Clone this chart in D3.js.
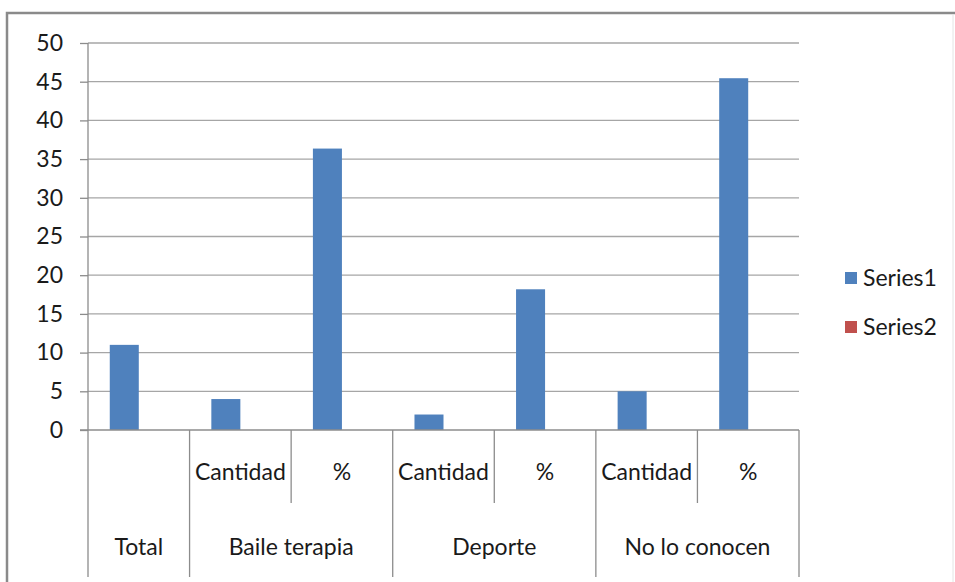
<!DOCTYPE html>
<html>
<head>
<meta charset="utf-8">
<script src="https://cdn.jsdelivr.net/npm/d3@7/dist/d3.min.js"></script>
<style>
  html, body { margin: 0; padding: 0; background: #ffffff; }
  svg { display: block; }
  text { font-family: Lato, "Open Sans", sans-serif; fill: #1a1a1a; }
</style>
</head>
<body>
<svg id="chart" width="955" height="582"></svg>
<script>
// Category hierarchy: outer group and inner sub-label for each column
const groups = ["Total", "Baile terapia", "Baile terapia", "Deporte", "Deporte", "No lo conocen", "No lo conocen"];
const subLabels = ["", "Cantidad", "%", "Cantidad", "%", "Cantidad", "%"];
const series1 = [11, 4, 36.36, 2, 18.18, 5, 45.45];
const series2 = [0, 0, 0, 0, 0, 0, 0];
const seriesNames = ["Series1", "Series2"];
const seriesColors = ["#4f81bd", "#c0504d"];
const yTicks = [0, 5, 10, 15, 20, 25, 30, 35, 40, 45, 50];

const svg = d3.select("#chart");
const W = 955, H = 582;
const fontSize = 23;

// Outer chart frame
svg.append("path")
  .attr("d", `M7,${H + 5} L7,13 L${W + 5},13`)
  .attr("fill", "none").attr("stroke", "#8a8a8a").attr("stroke-width", 2.5);
svg.append("line")
  .attr("x1", 953).attr("x2", 953).attr("y1", 14).attr("y2", H)
  .attr("stroke", "#e4e4e4").attr("stroke-width", 1);

const plot = { left: 88, right: 799, top: 43, bottom: 430 };
const subBottom = 503, groupBottom = 577;

const idx = d3.range(groups.length);
const x = d3.scaleBand().domain(idx).range([plot.left, plot.right]).padding(0);
const xs = d3.scaleBand().domain(seriesNames).range([0, x.bandwidth()])
  .paddingInner(0).paddingOuter(0.75);
const y = d3.scaleLinear().domain([0, 50]).range([plot.bottom, plot.top]);

// Horizontal gridlines
svg.append("g").selectAll("line").data(yTicks.filter(d => d > 0)).join("line")
  .attr("x1", plot.left).attr("x2", plot.right)
  .attr("y1", d => y(d)).attr("y2", d => y(d))
  .attr("stroke", "#a6a6a6").attr("stroke-width", 1.3);

// Value axis
const yAxis = d3.axisLeft(y).tickValues(yTicks).tickSize(8).tickPadding(17).tickFormat(d3.format("d"));
const gy = svg.append("g").attr("transform", `translate(${plot.left},0)`).call(yAxis);
gy.select(".domain").remove();
gy.selectAll(".tick line").attr("stroke", "#8c8c8c").attr("stroke-width", 1.3);
gy.selectAll(".tick text").attr("font-size", fontSize).attr("fill", "#1a1a1a")
  .attr("font-family", "Lato, 'Open Sans', sans-serif");

// Bars
const seriesData = [series1, series2];
seriesData.forEach((vals, si) => {
  svg.append("g").selectAll("rect").data(vals).join("rect")
    .attr("x", (d, i) => x(i) + xs(seriesNames[si]))
    .attr("width", xs.bandwidth())
    .attr("y", d => y(d))
    .attr("height", d => y(0) - y(d))
    .attr("fill", seriesColors[si]);
});

// Category axis baseline and value axis line
const axisColor = "#8c8c8c";
svg.append("line")
  .attr("x1", plot.left - 8).attr("x2", plot.right)
  .attr("y1", y(0)).attr("y2", y(0))
  .attr("stroke", axisColor).attr("stroke-width", 1.3);
svg.append("line")
  .attr("x1", plot.left).attr("x2", plot.left)
  .attr("y1", plot.top).attr("y2", plot.bottom)
  .attr("stroke", axisColor).attr("stroke-width", 1.3);

// Category dividers: long at group edges, short between sub-labels
const edges = d3.range(groups.length + 1).map(i => {
  const xp = i < groups.length ? x(i) : x(groups.length - 1) + x.bandwidth();
  const isGroupEdge = i === 0 || i === groups.length || groups[i] !== groups[i - 1];
  return { xp, bottom: isGroupEdge ? groupBottom : subBottom };
});
svg.append("g").selectAll("line").data(edges).join("line")
  .attr("x1", d => d.xp).attr("x2", d => d.xp)
  .attr("y1", y(0)).attr("y2", d => d.bottom)
  .attr("stroke", axisColor).attr("stroke-width", 1.3);

// Inner labels
svg.append("g").selectAll("text").data(idx).join("text")
  .attr("x", i => x(i) + x.bandwidth() / 2)
  .attr("y", 472)
  .attr("dy", "0.35em")
  .attr("text-anchor", "middle")
  .attr("font-size", fontSize)
  .text(i => subLabels[i]);

// Outer group labels
const groupSpans = [];
groups.forEach((g, i) => {
  const last = groupSpans[groupSpans.length - 1];
  if (last && last.name === g) last.end = i;
  else groupSpans.push({ name: g, start: i, end: i });
});
svg.append("g").selectAll("text").data(groupSpans).join("text")
  .attr("x", d => (x(d.start) + x(d.end) + x.bandwidth()) / 2)
  .attr("y", 547)
  .attr("dy", "0.35em")
  .attr("text-anchor", "middle")
  .attr("font-size", fontSize)
  .text(d => d.name);

// Legend
const legend = svg.append("g").selectAll("g").data(seriesNames).join("g")
  .attr("transform", (d, i) => `translate(845,${278 + i * 49})`);
legend.append("rect")
  .attr("x", 0).attr("y", -6).attr("width", 12).attr("height", 12)
  .attr("fill", (d, i) => seriesColors[i]);
legend.append("text")
  .attr("x", 18).attr("y", 0).attr("dy", "0.35em")
  .attr("font-size", fontSize)
  .text(d => d);
</script>
</body>
</html>
